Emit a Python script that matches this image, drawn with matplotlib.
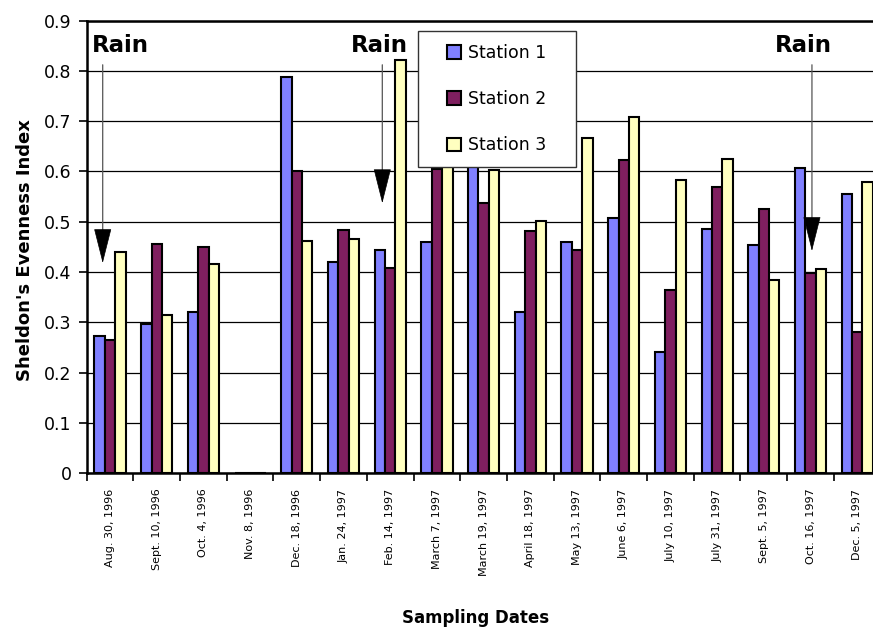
import numpy as np
import matplotlib
matplotlib.use("Agg")
import matplotlib.pyplot as plt
from matplotlib.patches import Rectangle

plt.rcParams['font.family'] = ['DejaVu Sans']

dates = ["Aug. 30, 1996", "Sept. 10, 1996", "Oct. 4, 1996", "Nov. 8, 1996",
         "Dec. 18, 1996", "Jan. 24, 1997", "Feb. 14, 1997", "March 7, 1997",
         "March 19, 1997", "April 18, 1997", "May 13, 1997", "June 6, 1997",
         "July 10, 1997", "July 31, 1997", "Sept. 5, 1997", "Oct. 16, 1997",
         "Dec. 5, 1997"]

station1 = [0.272, 0.296, 0.321, 0.0, 0.787, 0.420, 0.444, 0.459, 0.640,
            0.320, 0.459, 0.507, 0.242, 0.486, 0.454, 0.606, 0.555]
station2 = [0.264, 0.455, 0.450, 0.0, 0.600, 0.484, 0.408, 0.605, 0.537,
            0.482, 0.443, 0.623, 0.364, 0.569, 0.525, 0.398, 0.280]
station3 = [0.439, 0.315, 0.416, 0.0, 0.461, 0.465, 0.822, 0.670, 0.603,
            0.501, 0.667, 0.709, 0.583, 0.624, 0.384, 0.406, 0.579]

series_names = ["Station 1", "Station 2", "Station 3"]
y_ticks = [0.0, 0.1, 0.2, 0.3, 0.4, 0.5, 0.6, 0.7, 0.8, 0.9]
y_tick_labels = ["0", "0.1", "0.2", "0.3", "0.4", "0.5", "0.6", "0.7", "0.8", "0.9"]

# rain annotations: (x position in category units, arrow tip value)
rain_x = [-0.157, 5.83, 15.03]
rain_tip = [0.418, 0.537, 0.442]
rain_text_x = [0.213, 5.76, 14.84]

colors = ["#8080ff", "#7f1f5f", "#ffffc0"]

fig = plt.figure(figsize=(8.73, 6.31), dpi=100)
ax = fig.add_axes([0.0993, 0.2499, 1.0087 - 0.0993, 0.9675 - 0.2499])

x = np.arange(len(dates))
w = 1 / 4.5
for k, (vals, col, name) in enumerate(zip([station1, station2, station3], colors, series_names)):
    ax.bar(x + (k - 1) * w, vals, w, color=col, edgecolor="black", linewidth=1.5,
           zorder=3, label=name)

ax.set_xlim(-0.5, len(dates) - 0.5)
ax.set_ylim(0, 0.9)
ax.set_yticks(y_ticks)
ax.set_yticklabels(y_tick_labels, fontsize=12.5)
ax.tick_params(axis="y", direction="out", length=6, width=1.2, pad=5)

ax.set_xticks(x)
ax.set_xticklabels(dates, rotation=90, fontsize=8, va="top", ha="center")
ax.tick_params(axis="x", which="major", length=0, pad=11)
ax.set_xticks(np.arange(-0.5, len(dates), 1.0), minor=True)
ax.tick_params(axis="x", which="minor", direction="out", length=6, width=1.2)

ax.yaxis.grid(True, color="black", linewidth=0.9, zorder=0)
ax.set_axisbelow(True)
for s in ["top", "left", "bottom", "right"]:
    ax.spines[s].set_linewidth(1.8)
    ax.spines[s].set_color("black")

# Rain arrows
for rx, rt, tx in zip(rain_x, rain_tip, rain_text_x):
    ax.annotate("", xy=(rx, rt + 0.058), xytext=(rx, 0.812),
                arrowprops=dict(arrowstyle="-", color="#555555", lw=0.9,
                                shrinkA=0, shrinkB=0), zorder=6)
    ax.annotate("", xy=(rx, rt), xytext=(rx, rt + 0.06),
                arrowprops=dict(arrowstyle="-|>,head_length=23,head_width=5.8",
                                mutation_scale=1, color="black", lw=0.5,
                                shrinkA=0, shrinkB=0), zorder=6)
    ax.text(tx, 0.851, "Rain", fontsize=16.5, fontweight="bold",
            ha="center", va="center", zorder=6)

# Legend box
fig.patches.append(Rectangle((417.7 / 873, 1 - 166.7 / 631), (575.5 - 417.7) / 873,
                             (166.7 - 30.7) / 631, transform=fig.transFigure,
                             facecolor="white", edgecolor="#333333", linewidth=1.0,
                             zorder=5))
leg = ax.legend(loc="upper left", bbox_to_anchor=(447 / 873, 1 - 44 / 631),
                bbox_transform=fig.transFigure, frameon=False, fontsize=12.5,
                borderpad=0, borderaxespad=0, handlelength=0.8, handleheight=0.8,
                handletextpad=0.4, labelspacing=1.62)
leg.set_zorder(7)
leg.remove()
fig.legends.append(leg)
leg.set_figure(fig)

fig.text(25.5 / 873, 1 - 250 / 631, "Sheldon's Evenness Index", rotation=90,
         fontsize=13, fontweight="bold", ha="center", va="center")
fig.text(476 / 873, 1 - 618 / 631, "Sampling Dates", fontsize=12,
         fontweight="bold", ha="center", va="center")

fig.savefig("out.png", dpi=100)
